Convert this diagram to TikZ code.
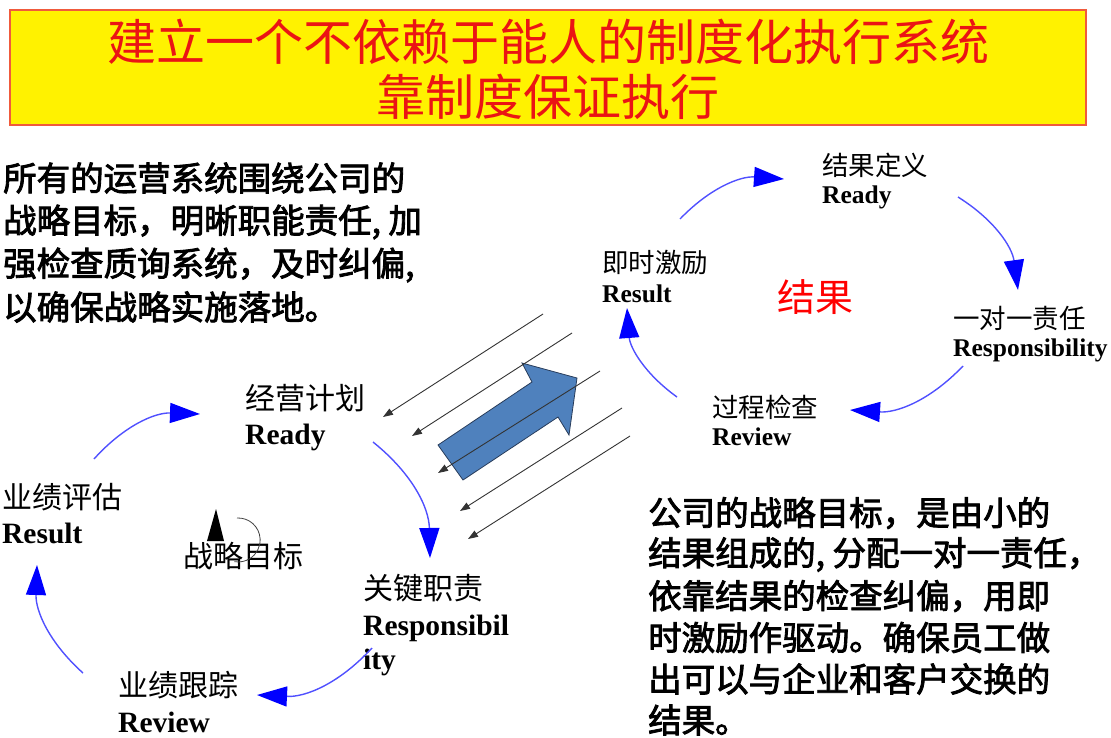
\documentclass[tikz,border=0pt]{standalone}
\usepackage{fontspec}
\setmainfont{Liberation Serif}
\newfontfamily\cjk{Noto Sans CJK SC}
\newfontfamily\cjkm{Noto Sans CJK SC}[FakeBold=2.5]
\usetikzlibrary{arrows.meta}
\definecolor{titlered}{RGB}{235,20,20}
\definecolor{boxborder}{RGB}{240,90,60}
\definecolor{arrowblue}{RGB}{79,129,189}
\definecolor{arrowedge}{RGB}{40,60,90}
\definecolor{arcblue}{RGB}{80,80,255}
\tikzset{
  cyc/.style={draw=arcblue, line width=1.4pt, -{Triangle[length=30pt,width=20pt,color=blue,fill=blue]}, bend left=25},
  flow/.style={draw=black!80, line width=0.9pt, -{Triangle[length=10pt,width=7pt]}},
  ttl/.style={inner sep=0pt, text=titlered, font=\cjk\fontsize{49}{49}\selectfont},
  lab/.style={anchor=west, inner sep=0pt, font=\cjk\fontsize{30}{30}\selectfont},
  labE/.style={anchor=west, inner sep=0pt, font=\bfseries\fontsize{29.5}{29.5}\selectfont},
  rlab/.style={anchor=west, inner sep=0pt, font=\cjk\fontsize{26.5}{26.5}\selectfont},
  rlabE/.style={anchor=west, inner sep=0pt, font=\bfseries\fontsize{25.5}{25.5}\selectfont},
  para/.style={anchor=west, inner sep=0pt, font=\cjkm\fontsize{33.5}{33.5}\selectfont},
}
\begin{document}
\begin{tikzpicture}[x=1pt,y=1pt]
\useasboundingbox (0,0) rectangle (1111,-737);
% title box
\draw[fill=yellow, draw=boxborder, line width=1.5pt] (10,-10) rectangle (1086,-125);
\node[ttl] (t1) at (548,-42) {建立一个不依赖于能人的制度化执行系统};
\node[ttl] (t2) at (548,-97) {靠制度保证执行};
% left paragraph
\node[para] (p1) at (3,-178) {所有的运营系统围绕公司的};
\node[para] (p2) at (3,-222) {战略目标，明晰职能责任, 加};
\node[para] (p3) at (3,-265) {强检查质询系统，及时纠偏,};
\node[para] (p4) at (3,-307) {以确保战略实施落地。};
% right paragraph
\node[para] (q1) at (648,-513) {公司的战略目标，是由小的};
\node[para] (q2) at (648,-554.5) {结果组成的, 分配一对一责任，};
\node[para] (q3) at (648,-596) {依靠结果的检查纠偏，用即};
\node[para] (q4) at (648,-637.5) {时激励作驱动。确保员工做};
\node[para] (q5) at (648,-679) {出可以与企业和客户交换的};
\node[para] (q6) at (648,-720) {结果。};
% left cycle labels
\node[lab] (a1) at (245,-398) {经营计划};
\node[labE] (a1e) at (245,-437) {Ready};
\node[lab] (a2) at (363,-588) {关键职责};
\node[labE] (a2e) at (363,-628) {Responsibil};
\node[labE] (a2f) at (363,-662) {ity};
\node[lab] (a3) at (118,-685) {业绩跟踪};
\node[labE] (a3e) at (118,-722) {Review};
\node[lab] (a4) at (2,-497) {业绩评估};
\node[labE] (a4e) at (2,-533) {Result};
\node[lab] (goal) at (183,-556) {战略目标};
% right cycle labels
\node[rlab] (b1) at (822,-165) {结果定义};
\node[rlabE] (b1e) at (822,-197) {Ready};
\node[rlab] (b2) at (953,-318) {一对一责任};
\node[rlabE] (b2e) at (953,-350) {Responsibility};
\node[rlab] (b3) at (712,-407) {过程检查};
\node[rlabE] (b3e) at (712,-437) {Review};
\node[rlab] (b4) at (602,-262) {即时激励};
\node[rlabE] (b4e) at (602,-294) {Result};
\node[anchor=west, inner sep=0pt, text=red, font=\cjk\fontsize{38}{38}\selectfont] (res) at (777,-297) {结果};
% left cycle arcs
\coordinate (la1s) at (94,-459);  \coordinate (la1e) at (200,-414);
\coordinate (la2s) at (373,-442); \coordinate (la2e) at (430,-558);
\coordinate (la3s) at (372,-648); \coordinate (la3e) at (257,-695);
\coordinate (la4s) at (83,-673);  \coordinate (la4e) at (37,-565);
\draw[cyc] (la1s) to (la1e);
\draw[cyc] (la2s) to (la2e);
\draw[cyc] (la3s) to (la3e);
\draw[cyc] (la4s) to (la4e);
% right cycle arcs
\coordinate (ra1s) at (680,-219); \coordinate (ra1e) at (784,-179);
\coordinate (ra2s) at (958,-197); \coordinate (ra2e) at (1018,-290);
\coordinate (ra3s) at (963,-366); \coordinate (ra3e) at (850,-410);
\coordinate (ra4s) at (677,-397); \coordinate (ra4e) at (627,-308);
\draw[cyc] (ra1s) to (ra1e);
\draw[cyc] (ra2s) to (ra2e);
\draw[cyc] (ra3s) to (ra3e);
\draw[cyc] (ra4s) to (ra4e);
% big blue arrow
\filldraw[fill=arrowblue, draw=arrowedge, line width=0.8pt]
  (438,-445) -- (532,-382) -- (522,-363) -- (577,-378) -- (569,-435) -- (558,-417) -- (463,-480) -- cycle;
% black flow lines
\coordinate (f1s) at (543,-314); \coordinate (f1e) at (383,-417);
\coordinate (f2s) at (572,-333); \coordinate (f2e) at (412,-436);
\coordinate (f3s) at (600,-371); \coordinate (f3e) at (438,-473);
\coordinate (f4s) at (622,-408); \coordinate (f4e) at (460,-511);
\coordinate (f5s) at (630,-436); \coordinate (f5e) at (468,-539);
\draw[flow] (f1s) -- (f1e);
\draw[flow] (f2s) -- (f2e);
\draw[flow] (f3s) -- (f3e);
\draw[flow] (f4s) -- (f4e);
\draw[flow] (f5s) -- (f5e);
% strategy-goal symbol
\fill (216,-509) -- (207,-541) -- (224,-541) -- cycle;
\draw[black!75, line width=0.8pt] (237,-518) arc[start angle=93, end angle=-100, radius=22];
\end{tikzpicture}
\end{document}
